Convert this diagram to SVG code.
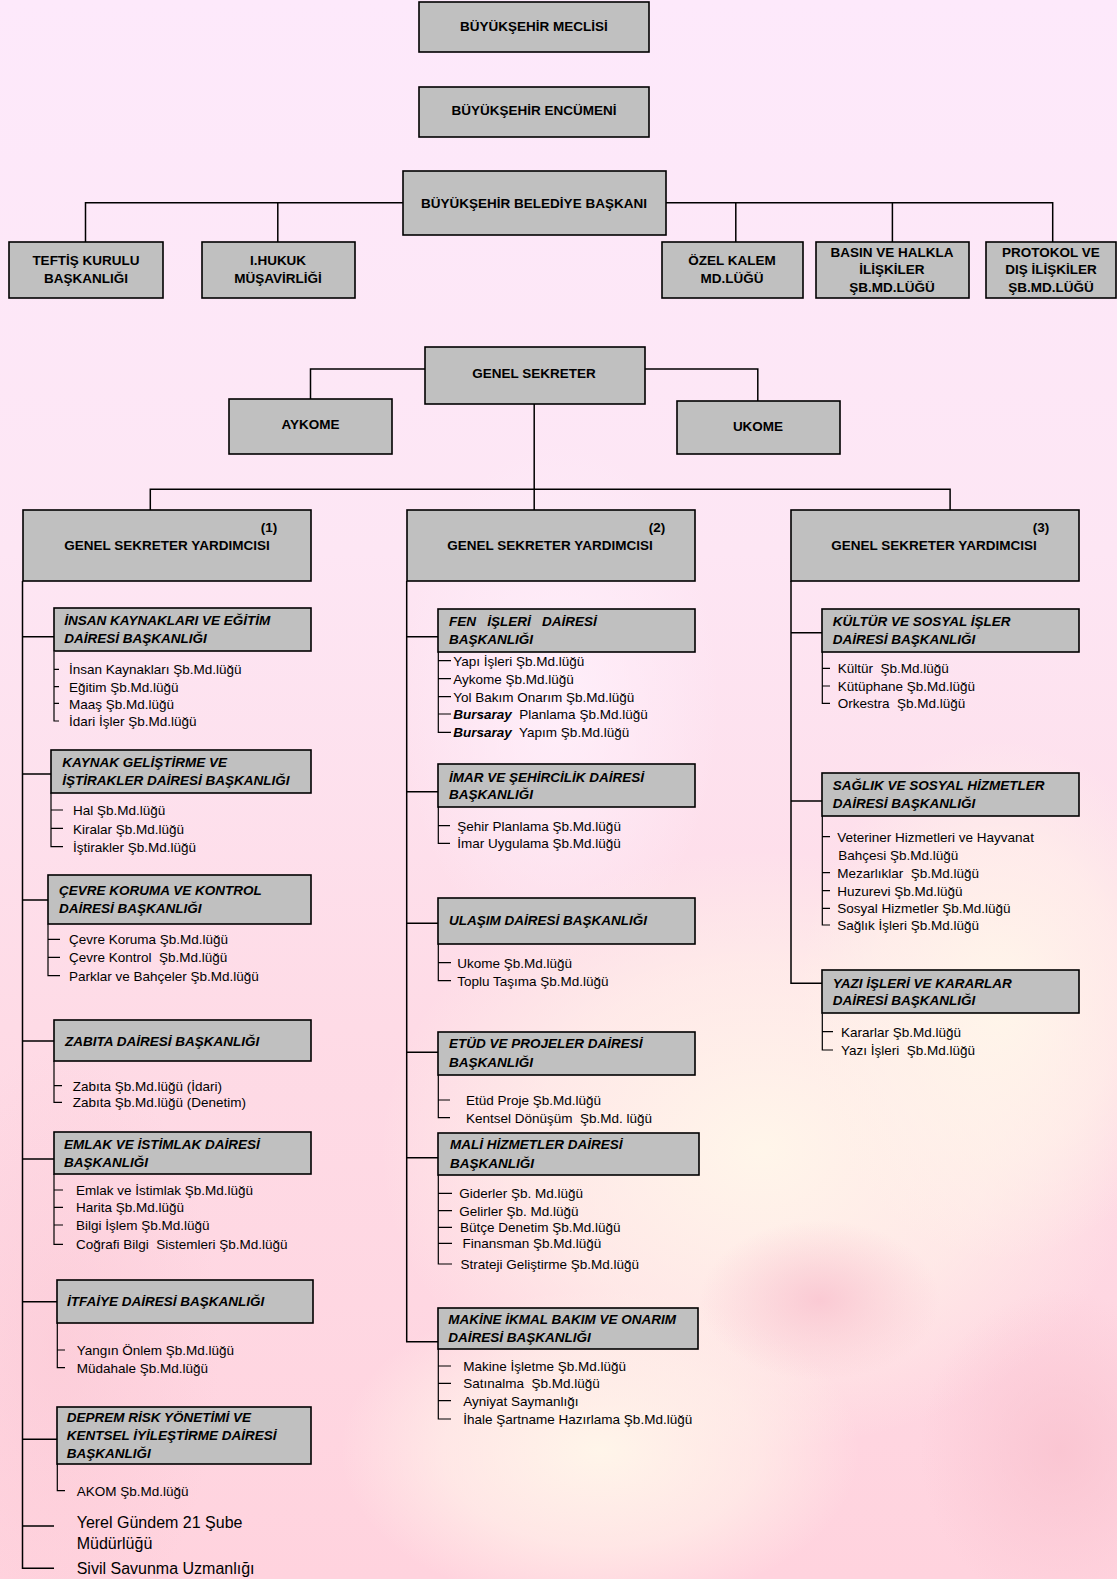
<svg xmlns="http://www.w3.org/2000/svg" width="1117" height="1579" viewBox="0 0 1117 1579">
<defs>
<linearGradient id="bg" x1="0" y1="0" x2="0" y2="1">
<stop offset="0" stop-color="#fde9fb"/>
<stop offset="0.35" stop-color="#fde6f4"/>
<stop offset="0.65" stop-color="#fedbe6"/>
<stop offset="1" stop-color="#ffd3de"/>
</linearGradient>
<radialGradient id="cream" cx="0.5" cy="0.5" r="0.5">
<stop offset="0" stop-color="#fff7ea" stop-opacity="0.95"/>
<stop offset="0.6" stop-color="#fff3ea" stop-opacity="0.6"/>
<stop offset="1" stop-color="#fff3ea" stop-opacity="0"/>
</radialGradient>
<radialGradient id="pinkb" cx="0.5" cy="0.5" r="0.5">
<stop offset="0" stop-color="#f9c2cf" stop-opacity="0.8"/>
<stop offset="1" stop-color="#f9c2cf" stop-opacity="0"/>
</radialGradient>
<radialGradient id="lav" cx="0.5" cy="0.5" r="0.5">
<stop offset="0" stop-color="#fff0fb" stop-opacity="0.9"/>
<stop offset="1" stop-color="#fff0fb" stop-opacity="0"/>
</radialGradient>
</defs>
<style>
.box{fill:#c0c0c0;stroke:#000;stroke-width:1.6}
.ln{fill:none;stroke:#000;stroke-width:1.5}
.sl{fill:none;stroke:#000;stroke-width:1.2}
.t{font-family:"Liberation Sans",Arial,sans-serif;font-size:13.5px;font-weight:bold;fill:#000;text-anchor:middle}
.d{font-family:"Liberation Sans",Arial,sans-serif;font-size:13.5px;font-weight:bold;font-style:italic;fill:#000}
.s{font-family:"Liberation Sans",Arial,sans-serif;font-size:13.5px;fill:#000}
.b{font-weight:bold;font-style:italic}
.l{font-family:"Liberation Sans",Arial,sans-serif;font-size:16px;fill:#000}
</style>
<g id="background">
<rect x="0" y="0" width="1117" height="1579" fill="url(#bg)"/>
<ellipse cx="560" cy="700" rx="160" ry="260" fill="url(#lav)"/>
<ellipse cx="760" cy="1150" rx="380" ry="300" fill="url(#cream)"/>
<ellipse cx="1000" cy="1000" rx="200" ry="260" fill="url(#cream)"/>
<ellipse cx="600" cy="1450" rx="260" ry="160" fill="url(#cream)"/>
<ellipse cx="1060" cy="1450" rx="140" ry="160" fill="url(#pinkb)"/>
<ellipse cx="820" cy="1300" rx="120" ry="80" fill="url(#pinkb)"/>
<ellipse cx="60" cy="1350" rx="160" ry="300" fill="url(#pinkb)" opacity="0.5"/>
</g>
<g id="connectors">
<path class="ln" d="M85.5 242V202.7H403M277.8 202.7V242M666 202.7H1052.7V242M735.8 202.7V242M892.4 202.7V242"/>
<path class="ln" d="M425 369H310.5V399M645 369H757.8V401M534.2 404V510M150.3 510V489.3H950.1V510"/>
<path class="ln" d="M22.5 581V1568.3H54M22.5 636.7H54M22.5 774H51M22.5 900H48M22.5 1041H54M22.5 1159H54M22.5 1301.7H57M22.5 1439.3H57M22.5 1526H54"/>
<path class="ln" d="M406.7 581V1341.7H438M406.7 636.7H438M406.7 791.7H438M406.7 923.3H438M406.7 1052.3H438M406.7 1157.7H438"/>
<path class="ln" d="M791 581V983.3H822M791 632.7H822M791 801H822"/>
<path class="sl" d="M54 651.7V721H59M54 669.3H59M54 686.7H59M54 703.3H59M51 792.7V846.7H63M51 810H63M51 828.3H63M48 924.3V975.7H60M48 939.3H60M48 957.3H60M54 1061V1102.3H62M54 1085.7H62M54 1174V1244.3H63M54 1190H63M54 1207.3H63M54 1225H63M57.3 1323V1367.7H65M57.3 1350H65M57.3 1464V1490.7H65"/>
<path class="sl" d="M438.3 651.7V732.3H451M438.3 660.7H451M438.3 678.7H451M438.3 696.7H451M438.3 714H451M438.3 806.7V843.3H450M438.3 825.7H450M438.3 944V980.7H451M438.3 962.7H451M438.3 1075V1117.7H450M438.3 1100H450M438.3 1175V1264H452M438.3 1193.3H452M438.3 1210.7H452M438.3 1227.3H452M438.3 1243.3H452M438.3 1349V1419H451M438.3 1366H451M438.3 1383.3H451M438.3 1400.7H451"/>
<path class="sl" d="M822.3 651.7V703.3H830M822.3 668.3H830M822.3 686H830M822.3 816V925H830M822.3 836.7H830M822.3 872.7H830M822.3 890.7H830M822.3 908.3H830M822.3 1013.3V1050H833M822.3 1031.7H833"/>
</g>
<g id="meclis"><rect class="box" x="419" y="2" width="230" height="50"/><text class="t" x="534" y="31">BÜYÜKŞEHİR MECLİSİ</text></g>
<g id="encumen"><rect class="box" x="419" y="87" width="230" height="50"/><text class="t" x="534" y="115">BÜYÜKŞEHİR ENCÜMENİ</text></g>
<g id="baskan"><rect class="box" x="403" y="171" width="263" height="64"/><text class="t" x="534" y="208">BÜYÜKŞEHİR BELEDİYE BAŞKANI</text></g>
<g id="teftis"><rect class="box" x="9" y="242" width="154" height="56"/><text class="t" x="86" y="265">TEFTİŞ KURULU</text><text class="t" x="86" y="283">BAŞKANLIĞI</text></g>
<g id="hukuk"><rect class="box" x="202" y="242" width="153" height="56"/><text class="t" x="278" y="265">I.HUKUK</text><text class="t" x="278" y="283">MÜŞAVİRLİĞİ</text></g>
<g id="ozelkalem"><rect class="box" x="662" y="242" width="141" height="56"/><text class="t" x="732" y="265">ÖZEL KALEM</text><text class="t" x="732" y="283">MD.LÜĞÜ</text></g>
<g id="basin"><rect class="box" x="816" y="242" width="153" height="56"/><text class="t" x="892" y="257">BASIN VE HALKLA</text><text class="t" x="892" y="274">İLİŞKİLER</text><text class="t" x="892" y="292">ŞB.MD.LÜĞÜ</text></g>
<g id="protokol"><rect class="box" x="986" y="242" width="130" height="56"/><text class="t" x="1051" y="257">PROTOKOL VE</text><text class="t" x="1051" y="274">DIŞ İLİŞKİLER</text><text class="t" x="1051" y="292">ŞB.MD.LÜĞÜ</text></g>
<g id="genelsekreter"><rect class="box" x="425" y="347" width="220" height="57"/><text class="t" x="534" y="378">GENEL SEKRETER</text></g>
<g id="aykome"><rect class="box" x="229" y="399" width="163" height="55"/><text class="t" x="310.5" y="429">AYKOME</text></g>
<g id="ukome"><rect class="box" x="677" y="401" width="163" height="53"/><text class="t" x="758" y="431">UKOME</text></g>
<g id="gsy1"><rect class="box" x="23" y="510" width="288" height="71"/><text class="t" x="269" y="532">(1)</text><text class="t" x="167" y="550">GENEL SEKRETER YARDIMCISI</text></g>
<g id="gsy2"><rect class="box" x="407" y="510" width="288" height="71"/><text class="t" x="657" y="532">(2)</text><text class="t" x="550" y="550">GENEL SEKRETER YARDIMCISI</text></g>
<g id="gsy3"><rect class="box" x="791" y="510" width="288" height="71"/><text class="t" x="1041" y="532">(3)</text><text class="t" x="934" y="550">GENEL SEKRETER YARDIMCISI</text></g>
<g id="insan"><rect class="box" x="54" y="608" width="257" height="43"/><text class="d" x="64.3" y="625">İNSAN KAYNAKLARI VE EĞİTİM</text><text class="d" x="64.3" y="643">DAİRESİ BAŞKANLIĞI</text>
<text class="s" x="69" y="674">İnsan Kaynakları Şb.Md.lüğü</text><text class="s" x="69" y="691.5">Eğitim Şb.Md.lüğü</text><text class="s" x="69" y="708.5">Maaş Şb.Md.lüğü</text><text class="s" x="69" y="726">İdari İşler Şb.Md.lüğü</text></g>
<g id="kaynak"><rect class="box" x="51" y="750" width="260" height="43"/><text class="d" x="62.3" y="766.5">KAYNAK GELİŞTİRME VE</text><text class="d" x="62.3" y="785">İŞTİRAKLER DAİRESİ BAŞKANLIĞI</text>
<text class="s" x="73" y="815">Hal Şb.Md.lüğü</text><text class="s" x="73" y="833.5">Kiralar Şb.Md.lüğü</text><text class="s" x="73" y="851.5">İştirakler Şb.Md.lüğü</text></g>
<g id="cevre"><rect class="box" x="48" y="875" width="263" height="49"/><text class="d" x="59" y="895">ÇEVRE KORUMA VE KONTROL</text><text class="d" x="59" y="913">DAİRESİ BAŞKANLIĞI</text>
<text class="s" x="69" y="944">Çevre Koruma Şb.Md.lüğü</text><text class="s" x="69" y="962">Çevre Kontrol&#160; Şb.Md.lüğü</text><text class="s" x="69" y="980.5">Parklar ve Bahçeler Şb.Md.lüğü</text></g>
<g id="zabita"><rect class="box" x="54" y="1020" width="257" height="41"/><text class="d" x="65" y="1045.5">ZABITA DAİRESİ BAŞKANLIĞI</text>
<text class="s" x="72.7" y="1090.5">Zabıta Şb.Md.lüğü (İdari)</text><text class="s" x="72.7" y="1107">Zabıta Şb.Md.lüğü (Denetim)</text></g>
<g id="emlak"><rect class="box" x="54" y="1132" width="257" height="42"/><text class="d" x="64" y="1149">EMLAK VE İSTİMLAK DAİRESİ</text><text class="d" x="64" y="1167">BAŞKANLIĞI</text>
<text class="s" x="76" y="1195">Emlak ve İstimlak Şb.Md.lüğü</text><text class="s" x="76" y="1212">Harita Şb.Md.lüğü</text><text class="s" x="76" y="1230">Bilgi İşlem Şb.Md.lüğü</text><text class="s" x="76" y="1249">Coğrafi Bilgi&#160; Sistemleri Şb.Md.lüğü</text></g>
<g id="itfaiye"><rect class="box" x="57" y="1280" width="256" height="43"/><text class="d" x="67" y="1306">İTFAİYE DAİRESİ BAŞKANLIĞI</text>
<text class="s" x="76.7" y="1355">Yangın Önlem Şb.Md.lüğü</text><text class="s" x="76.7" y="1372.5">Müdahale Şb.Md.lüğü</text></g>
<g id="deprem"><rect class="box" x="57" y="1407" width="254" height="57"/><text class="d" x="66.7" y="1421.5">DEPREM RİSK YÖNETİMİ VE</text><text class="d" x="66.7" y="1440">KENTSEL İYİLEŞTİRME DAİRESİ</text><text class="d" x="66.7" y="1458">BAŞKANLIĞI</text>
<text class="s" x="76.7" y="1495.5">AKOM Şb.Md.lüğü</text></g>
<g id="yerelgundem"><text class="l" x="76.7" y="1527.5">Yerel Gündem 21 Şube</text><text class="l" x="76.7" y="1548.5">Müdürlüğü</text></g>
<g id="sivilsavunma"><text class="l" x="76.7" y="1574">Sivil Savunma Uzmanlığı</text></g>
<g id="fen"><rect class="box" x="438" y="609" width="257" height="43"/><text class="d" x="449" y="625.5">FEN&#160;&#160; İŞLERİ&#160;&#160; DAİRESİ</text><text class="d" x="449" y="643.5">BAŞKANLIĞI</text>
<text class="s" x="453.3" y="665.5">Yapı İşleri Şb.Md.lüğü</text><text class="s" x="453.3" y="683.5">Aykome Şb.Md.lüğü</text><text class="s" x="453.3" y="701.5">Yol Bakım Onarım Şb.Md.lüğü</text><text class="s" x="453.3" y="719"><tspan class="b">Bursaray</tspan>&#160; Planlama Şb.Md.lüğü</text><text class="s" x="453.3" y="737"><tspan class="b">Bursaray</tspan>&#160; Yapım Şb.Md.lüğü</text></g>
<g id="imar"><rect class="box" x="438" y="764" width="257" height="43"/><text class="d" x="449" y="781.5">İMAR VE ŞEHİRCİLİK DAİRESİ</text><text class="d" x="449" y="799">BAŞKANLIĞI</text>
<text class="s" x="457.3" y="830.5">Şehir Planlama Şb.Md.lüğü</text><text class="s" x="457.3" y="848">İmar Uygulama Şb.Md.lüğü</text></g>
<g id="ulasim"><rect class="box" x="438" y="898" width="257" height="46"/><text class="d" x="449" y="925">ULAŞIM DAİRESİ BAŞKANLIĞI</text>
<text class="s" x="457.3" y="967.5">Ukome Şb.Md.lüğü</text><text class="s" x="457.3" y="985.5">Toplu Taşıma Şb.Md.lüğü</text></g>
<g id="etud"><rect class="box" x="438" y="1032" width="257" height="43"/><text class="d" x="449" y="1048">ETÜD VE PROJELER DAİRESİ</text><text class="d" x="449" y="1066.5">BAŞKANLIĞI</text>
<text class="s" x="466" y="1105">Etüd Proje Şb.Md.lüğü</text><text class="s" x="466" y="1122.5">Kentsel Dönüşüm&#160; Şb.Md. lüğü</text></g>
<g id="mali"><rect class="box" x="438" y="1133" width="261" height="42"/><text class="d" x="450" y="1149">MALİ HİZMETLER DAİRESİ</text><text class="d" x="450" y="1167.5">BAŞKANLIĞI</text>
<text class="s" x="459.3" y="1198">Giderler Şb. Md.lüğü</text><text class="s" x="459.3" y="1215.5">Gelirler Şb. Md.lüğü</text><text class="s" x="460" y="1232">Bütçe Denetim Şb.Md.lüğü</text><text class="s" x="462.5" y="1248">Finansman Şb.Md.lüğü</text><text class="s" x="460.5" y="1269">Strateji Geliştirme Şb.Md.lüğü</text></g>
<g id="makine"><rect class="box" x="438" y="1308" width="260" height="41"/><text class="d" x="448.3" y="1324">MAKİNE İKMAL BAKIM VE ONARIM</text><text class="d" x="448.3" y="1341.5">DAİRESİ BAŞKANLIĞI</text>
<text class="s" x="463.3" y="1371">Makine İşletme Şb.Md.lüğü</text><text class="s" x="463.3" y="1388">Satınalma&#160; Şb.Md.lüğü</text><text class="s" x="463.3" y="1405.5">Ayniyat Saymanlığı</text><text class="s" x="463.3" y="1424">İhale Şartname Hazırlama Şb.Md.lüğü</text></g>
<g id="kultur"><rect class="box" x="822" y="609" width="257" height="43"/><text class="d" x="832.7" y="625.5">KÜLTÜR VE SOSYAL İŞLER</text><text class="d" x="832.7" y="643.5">DAİRESİ BAŞKANLIĞI</text>
<text class="s" x="837.7" y="673">Kültür&#160; Şb.Md.lüğü</text><text class="s" x="837.7" y="691">Kütüphane Şb.Md.lüğü</text><text class="s" x="837.7" y="708">Orkestra&#160; Şb.Md.lüğü</text></g>
<g id="saglik"><rect class="box" x="822" y="773" width="257" height="43"/><text class="d" x="832.7" y="790">SAĞLIK VE SOSYAL HİZMETLER</text><text class="d" x="832.7" y="807.5">DAİRESİ BAŞKANLIĞI</text>
<text class="s" x="837.3" y="841.5">Veteriner Hizmetleri ve Hayvanat</text><text class="s" x="838.3" y="860">Bahçesi Şb.Md.lüğü</text><text class="s" x="837.3" y="877.5">Mezarlıklar&#160; Şb.Md.lüğü</text><text class="s" x="837.3" y="895.5">Huzurevi Şb.Md.lüğü</text><text class="s" x="837.3" y="913">Sosyal Hizmetler Şb.Md.lüğü</text><text class="s" x="837.3" y="930">Sağlık İşleri Şb.Md.lüğü</text></g>
<g id="yazi"><rect class="box" x="822" y="970" width="257" height="43"/><text class="d" x="832.7" y="987.5">YAZI İŞLERİ VE KARARLAR</text><text class="d" x="832.7" y="1005">DAİRESİ BAŞKANLIĞI</text>
<text class="s" x="841" y="1036.5">Kararlar Şb.Md.lüğü</text><text class="s" x="841" y="1055">Yazı İşleri&#160; Şb.Md.lüğü</text></g>
</svg>
